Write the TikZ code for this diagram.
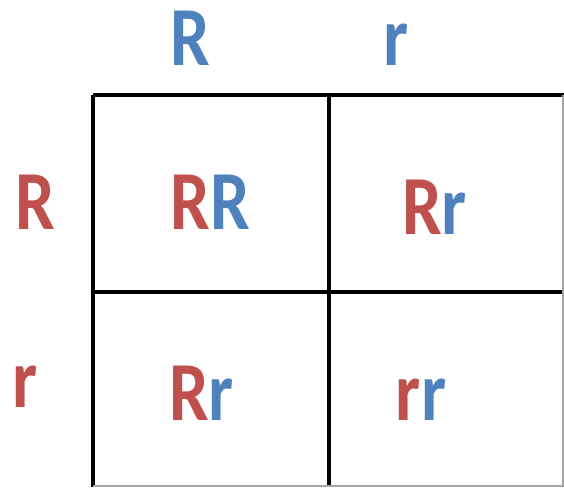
\documentclass[tikz,border=0pt]{standalone}
\usepackage{fontspec}
\setmainfont{Carlito}
\usetikzlibrary{positioning}
\definecolor{allelered}{HTML}{C0504D}
\definecolor{alleleblue}{HTML}{4F81BD}
\newcommand{\domR}[1]{\textcolor{allelered}{#1}}
\newcommand{\recB}[1]{\textcolor{alleleblue}{#1}}
\newcommand{\narrow}[1]{\scalebox{0.84}[1]{#1}}

\begin{document}
\begin{tikzpicture}[
    x=1pt, y=-1pt,
    every node/.style={inner sep=0pt},
    allele/.style={font=\fontsize{84}{84}\selectfont\bfseries, anchor=base},
    grid line/.style={line width=3.5pt, black},
    edge line/.style={line width=1.2pt, black!35},
]
\useasboundingbox (0,0) rectangle (564,487);

% ============ grid ============
\draw[grid line] (93,95) -- (93,487);
\draw[grid line] (329,95) -- (329,487);
\draw[grid line] (93,95) -- (564,95);
\draw[grid line] (93,292) -- (564,292);
\draw[edge line] (563,95) -- (563,487);
\draw[edge line] (93,486) -- (564,486);

% ============ parent alleles ============
\node[allele, text=alleleblue] (topR) at (190.5,66) {\narrow{R}};
\node[allele, text=alleleblue] (topr) at (396,66) {\narrow{r}};
\node[allele, text=allelered] (leftR) at (35.5,229) {\narrow{R}};
\node[allele, text=allelered] (leftr) at (25,407) {\narrow{r}};

% ============ offspring ============
\node[allele] (cellRR) at (210.5,229) {\narrow{\domR{R}\recB{R}}};
\node[allele] (cellRr) at (434.5,234) {\narrow{\domR{R}\recB{r}}};
\node[allele] (cellrR) at (201.5,420) {\narrow{\domR{R}\recB{r}}};
\node[allele] (cellrr) at (421,420) {\narrow{\domR{r}\recB{r}}};

\end{tikzpicture}
\end{document}
